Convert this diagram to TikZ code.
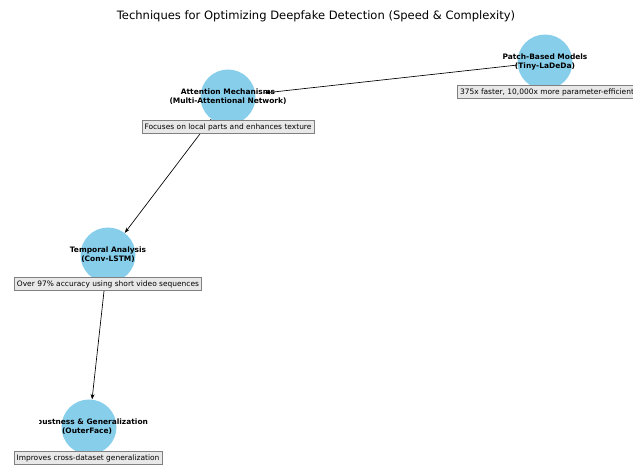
\documentclass[tikz,border=0pt]{standalone}
\usepackage{fontspec}
\setmainfont{DejaVu Sans}
\usetikzlibrary{arrows.meta}

\definecolor{nodeblue}{RGB}{135,206,235}
\definecolor{notegray}{RGB}{232,232,232}
\definecolor{noteedge}{RGB}{128,128,128}

\tikzset{
  technode/.style={circle,fill=nodeblue,draw=none,minimum size=55*0.75pt,inner sep=0pt},
  techlabel/.style={font=\bfseries\fontsize{5.6}{6.6}\selectfont,align=center,inner sep=0.75pt},
  technote/.style={fill=notegray,draw=noteedge,line width=0.4pt,font=\fontsize{5.6}{6.6}\selectfont,inner sep=2pt},
  techedge/.style={-{Stealth[length=4pt,width=3pt]},line width=0.5pt,black},
}

\begin{document}
\begin{tikzpicture}[x=0.75pt,y=0.75pt,yscale=-1,xscale=1]
    \useasboundingbox (0,0) rectangle (633,466);
    \clip (0,0) rectangle (633,466);

    % Title
    \node (title) at (316,16) [font=\fontsize{8.65}{10}\selectfont] {Techniques for Optimizing Deepfake Detection (Speed \& Complexity)};

    %Shape: Circle nodes
    \node (attn) at (228,97) [technode] {};
    \node (patch) at (545,62) [technode] {};
    \node (temp) at (108,255) [technode] {};
    \node (robust) at (89,427) [technode] {};

    %Straight Lines
    \draw [techedge,shorten >=7pt] (patch) -- (attn);
    \draw [techedge] (attn) -- (temp);
    \draw [techedge] (temp) -- (robust);

    % Text Node
    \node (attnlabel) at (attn) [techlabel] {Attention Mechanisms\\(Multi-Attentional Network)};
    % Text Node
    \node (patchlabel) at (patch) [techlabel] {Patch-Based Models\\(Tiny-LaDeDa)};
    % Text Node
    \node (templabel) at (temp) [techlabel] {Temporal Analysis\\(Conv-LSTM)};
    % Text Node (cut off at the left, as printed)
    \begin{scope}
      \clip (39,400) rectangle (200,450);
      \node (robustlabel) at (87,427) [techlabel] {Robustness \& Generalization\\(OuterFace)};
    \end{scope}

    % Text Node
    \node (attnnote) at (228,127) [technote] {Focuses on local parts and enhances texture};
    % Text Node
    \node (patchnote) at (547,92) [technote] {375x faster, 10,000x more parameter-efficient};
    % Text Node
    \node (tempnote) at (108,284) [technote] {Over 97\% accuracy using short video sequences};
    % Text Node
    \node (robustnote) at (88,458) [technote] {Improves cross-dataset generalization};

\end{tikzpicture}
\end{document}
